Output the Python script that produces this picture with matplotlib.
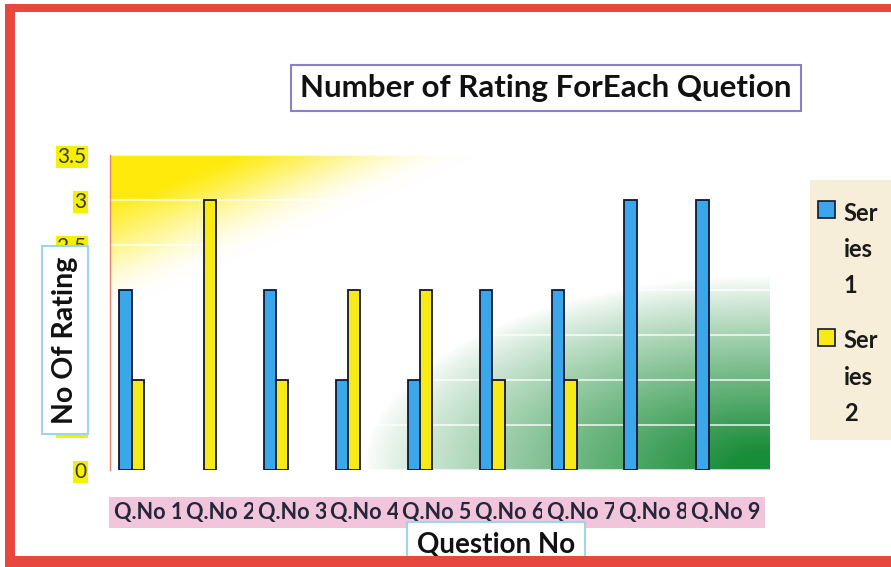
import numpy as np
import matplotlib
matplotlib.use("Agg")
import matplotlib.pyplot as plt
import matplotlib.transforms as mtransforms
from matplotlib.patches import Rectangle
from matplotlib.legend_handler import HandlerPatch

plt.rcParams['font.family'] = ['Lato', 'DejaVu Sans']

categories = ["Q.No 1", "Q.No 2", "Q.No 3", "Q.No 4", "Q.No 5",
              "Q.No 6", "Q.No 7", "Q.No 8", "Q.No 9"]
series1 = [2, 0, 2, 1, 1, 2, 2, 3, 3]
series2 = [1, 3, 1, 2, 2, 1, 1, 0, 0]
series_names = ["Ser\nies\n1", "Ser\nies\n2"]
yticks = [0, 0.5, 1, 1.5, 2, 2.5, 3, 3.5]
ytick_labels = ["0", "0.5", "1", "1.5", "2", "2.5", "3", "3.5"]
title = "Number of Rating ForEach Quetion"
xlabel = "Question No"
ylabel = "No Of Rating"

W, H = 891, 567
fig = plt.figure(figsize=(W / 100, H / 100), dpi=100)
fig.patch.set_facecolor("white")

def fx(px):
    return px / W

def fy(py):
    return 1 - py / H

ax = fig.add_axes([fx(110), fy(470), fx(770) - fx(110), fy(155) - fy(470)])
ax.set_facecolor("none")

def smooth(e0, e1, xx):
    t = np.clip((xx - e0) / (e1 - e0), 0, 1)
    return t * t * (3 - 2 * t)

# gradient background
nu, nv = 400, 300
u = np.linspace(0, 1, nu)[None, :]
v = np.linspace(1, 0, nv)[:, None]
sy = u / 0.56 + (1 - v) / 0.5
wy = 1 - smooth(0.15, 1.0, sy)
wy = wy + 0.15 * (v > 0.857) * (1 - smooth(0.2, 0.9, sy))
sg = np.sqrt(((1 - u) / 0.56) ** 2 + (v / 0.56) ** 2)
wg = np.clip((1.1 - sg) / 1.0, 0, 1) ** 0.85
wy = np.clip(wy, 0, 1)
wg = np.clip(wg, 0, 1)
yellow = np.array([1.0, 0.92, 0.05])
green = np.array([0.10, 0.55, 0.22])
white = np.array([1.0, 1.0, 1.0])
img = (white[None, None, :] * np.clip(1 - wy - wg, 0, 1)[..., None]
       + yellow[None, None, :] * wy[..., None]
       + green[None, None, :] * wg[..., None])
img = np.clip(img, 0, 1)
ax.imshow(img, extent=[0, 1, 0, 1], transform=ax.transAxes, aspect="auto",
          zorder=0, interpolation="bilinear")

x = np.arange(len(categories))
bw = 0.17
c1, c2, ec = "#3aa7ea", "#f7ea17", "#151530"
lw1 = [1.3 if val > 0 else 0 for val in series1]
lw2 = [1.3 if val > 0 else 0 for val in series2]
ax.bar(x - bw / 2, series1, width=bw, color=c1, edgecolor=ec,
       linewidth=lw1, zorder=3)
ax.bar(x + bw / 2, series2, width=bw, color=c2, edgecolor=ec,
       linewidth=lw2, zorder=3)

ax.set_xlim(-0.3, 8.85)
ax.set_ylim(0, 3.5)
ax.set_yticks(yticks)
ax.set_yticklabels(ytick_labels)
ax.set_xticks(x)
ax.set_xticklabels(categories)
ax.grid(axis="y", color="white", lw=1.4, alpha=0.7, zorder=1)
ax.set_axisbelow(True)

for s in ["top", "right", "bottom"]:
    ax.spines[s].set_visible(False)
ax.spines["left"].set_color("#e8826e")
ax.spines["left"].set_linewidth(1.0)

ax.tick_params(axis="both", length=0)
ax.tick_params(axis="y", pad=17, labelsize=15, labelcolor="#3a3a3a")
ax.tick_params(axis="x", pad=23, labelsize=15.6, labelcolor="#262638")

for lab in ax.get_yticklabels():
    lab.set_bbox(dict(facecolor="#f5f000", edgecolor="none", pad=1))
offset = mtransforms.ScaledTranslation(17 / 100, 0, fig.dpi_scale_trans)
for lab in ax.get_xticklabels():
    lab.set_fontweight("bold")
    lab.set_bbox(dict(facecolor="#f1c6dc", edgecolor="none", pad=3.5))
    lab.set_transform(lab.get_transform() + offset)

# title
fig.text(fx(546), fy(88), title, ha="center", va="center", fontsize=22.5,
         fontweight="bold", color="#111111",
         bbox=dict(facecolor="white", edgecolor="#8b80c9", lw=1.5,
                   boxstyle="square,pad=0.3"), zorder=5)

# y label
fig.text(fx(65), fy(340), ylabel, ha="center", va="center", rotation=90,
         fontsize=20.5, fontweight="bold", color="#111111",
         bbox=dict(facecolor="white", edgecolor="#9ed4ec", lw=1.5,
                   boxstyle="square,pad=0.35"), zorder=5)

# x label
fig.text(fx(496), fy(545), xlabel, ha="center", va="center",
         fontsize=20, fontweight="bold", color="#111111",
         bbox=dict(facecolor="white", edgecolor="#9ed4ec", lw=1.5,
                   boxstyle="square,pad=0.35"), zorder=5)

# legend background panel
fig.add_artist(Rectangle((fx(810), fy(440)), fx(891) - fx(810), fy(180) - fy(440),
                         transform=fig.transFigure, facecolor="#f6eed8",
                         edgecolor="none", zorder=4))

def make_square(legend, orig_handle, xdescent, ydescent, width, height, fontsize):
    s = fontsize * 0.72
    return Rectangle((-xdescent, -ydescent + fontsize * 1.72), s, s)

handles = [Rectangle((0, 0), 1, 1, facecolor=c1, edgecolor=ec, lw=1.2),
           Rectangle((0, 0), 1, 1, facecolor=c2, edgecolor=ec, lw=1.2)]
leg = fig.legend(handles, series_names, loc="upper left",
                 bbox_to_anchor=(fx(806), fy(190)),
                 fontsize=17, frameon=False, handlelength=0.75,
                 handletextpad=0.35, labelspacing=1.35, borderpad=0.5,
                 borderaxespad=0,
                 handler_map={Rectangle: HandlerPatch(patch_func=make_square)})
for t in leg.get_texts():
    t.set_fontweight("bold")
    t.set_linespacing(1.7)
    t.set_color("#1a1a1a")
leg.set_zorder(6)

# red frame
red = "#e8473f"
for (x0, y0, x1, y1) in [(5, 4, 891, 12), (5, 4, 15, 567), (5, 556, 891, 567)]:
    fig.add_artist(Rectangle((fx(x0), fy(y1)), fx(x1) - fx(x0), fy(y0) - fy(y1),
                             transform=fig.transFigure, facecolor=red,
                             edgecolor="none", zorder=10))

fig.savefig("out.png", dpi=100)
